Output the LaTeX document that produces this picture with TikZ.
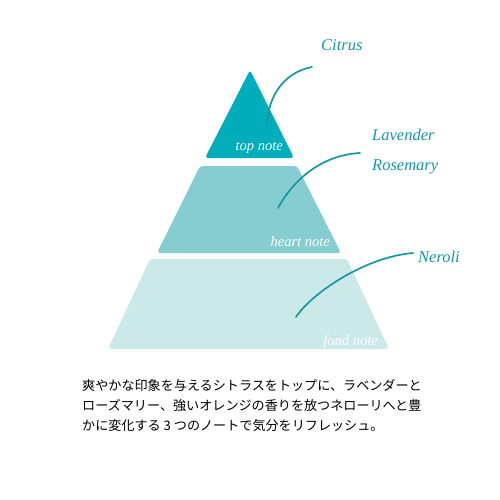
\documentclass[tikz,border=0pt]{standalone}
\usepackage{fontspec}
\setmainfont{Liberation Serif}
\newfontfamily\jpfont{Noto Sans CJK JP}
\definecolor{topcol}{RGB}{0,173,186}
\definecolor{heartcol}{RGB}{134,205,210}
\definecolor{fondcol}{RGB}{204,233,234}
\definecolor{linecol}{RGB}{22,152,158}
\tikzset{
  note/.style={text=white, font=\itshape\fontsize{14.5}{14.5}\selectfont, inner sep=0pt},
  scent/.style={text=linecol, font=\itshape\fontsize{16.5}{16.5}\selectfont, inner sep=0pt},
  lead/.style={draw=linecol, line width=1.7pt, line cap=round}
}
\begin{document}
\begin{tikzpicture}[x=1pt,y=-1pt]
			\useasboundingbox (0,0) rectangle (500,500);
			
			% pyramid
			\fill[topcol, rounded corners=3pt] (250,70) -- (294,158) -- (205,158) -- cycle;
			\fill[heartcol, rounded corners=3pt] (200,166) -- (297,166) -- (341,253) -- (157,253) -- cycle;
			\fill[fondcol, rounded corners=3pt] (150,259) -- (347,259) -- (389,349) -- (108,349) -- cycle;
			
			\node[note, anchor=base east] (top) at (283,150) {top note};
			\node[note, anchor=base east] (heart) at (330,246) {heart note};
			\node[note, anchor=base east] (fond) at (378,345) {fond note};
			
			% scents
			\node[scent, anchor=base west] (citrus) at (321,51) {Citrus};
			\node[scent, anchor=base west] (lavender) at (372,140) {Lavender};
			\node[scent, anchor=base west] (rosemary) at (372,170) {Rosemary};
			\node[scent, anchor=base west] (neroli) at (418,262) {Neroli};
			
			\coordinate (c1) at (267,125);
			\coordinate (c2) at (312,67);
			\coordinate (l1) at (278,208);
			\coordinate (l2) at (360,153);
			\coordinate (n1) at (296,317);
			\coordinate (n2) at (413,253);
			
			\draw[lead] (c1) .. controls (268,95) and (285,72) .. (c2);
			\draw[lead] (l1) .. controls (292,182) and (320,155) .. (l2);
			\draw[lead] (n1) .. controls (312,293) and (365,257) .. (n2);
			
			\node[anchor=west, align=left, inner sep=0pt, font=\jpfont\fontsize{13.1}{20}\selectfont] (desc) at (82,406)
			  {爽やかな印象を与えるシトラスをトップに、ラベンダーと\\
			   ローズマリー、強いオレンジの香りを放つネローリへと豊\\
			   かに変化する 3 つのノートで気分をリフレッシュ。};
		\end{tikzpicture}
\end{document}
